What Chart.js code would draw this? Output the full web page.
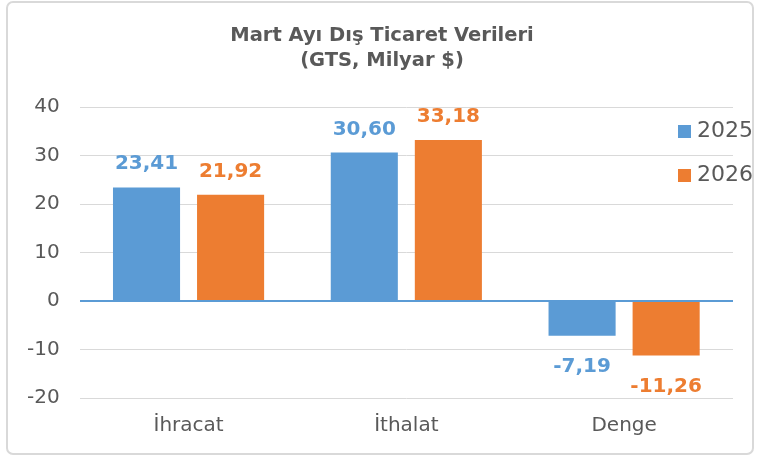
<!DOCTYPE html>
<html>
<head>
<meta charset="utf-8">
<script src="https://cdn.jsdelivr.net/npm/chart.js@4.4.1/dist/chart.umd.min.js"></script>
<style>
  html, body { margin: 0; padding: 0; background: #fff; }
  #wrap { width: 757px; height: 457px; position: relative; }
</style>
</head>
<body>
<div id="wrap"><canvas id="c" width="757" height="457"></canvas></div>
<script>
const categories = ['İhracat', 'İthalat', 'Denge'];
const seriesNames = ['2025', '2026'];
const values2025 = [23.41, 30.60, -7.19];
const values2026 = [21.92, 33.18, -11.26];
const titleLines = ['Mart Ayı Dış Ticaret Verileri', '(GTS, Milyar $)'];

const BLUE = '#5b9bd5';
const ORANGE = '#ed7d31';
const GREY_TEXT = '#595959';
const FONT = '"DejaVu Sans", sans-serif';

const fmt = v => v.toFixed(2).replace('.', ',');

// white background + rounded frame
const framePlugin = {
  id: 'framePlugin',
  beforeDraw(chart) {
    const { ctx, width, height } = chart;
    ctx.save();
    ctx.fillStyle = '#fff';
    ctx.fillRect(0, 0, width, height);
    ctx.strokeStyle = '#d9d9d9';
    ctx.lineWidth = 2;
    ctx.beginPath();
    ctx.roundRect(7, 2, width - 11, height - 5, 6);
    ctx.stroke();
    ctx.restore();
  }
};

// two-line title, centred on the frame (not the plot)
const titlePlugin = {
  id: 'titlePlugin',
  afterDraw(chart) {
    const { ctx } = chart;
    ctx.save();
    ctx.font = 'bold 19.5px ' + FONT;
    ctx.fillStyle = GREY_TEXT;
    ctx.textAlign = 'center';
    ctx.textBaseline = 'middle';
    titleLines.forEach((line, i) => ctx.fillText(line, 382, 36 + i * 25));
    ctx.restore();
  }
};

// value labels above / below bars
const valueLabels = {
  id: 'valueLabels',
  afterDatasetsDraw(chart) {
    const { ctx } = chart;
    ctx.save();
    ctx.font = 'bold 20px ' + FONT;
    ctx.textAlign = 'center';
    ctx.textBaseline = 'alphabetic';
    chart.data.datasets.forEach((ds, i) => {
      const meta = chart.getDatasetMeta(i);
      ctx.fillStyle = ds.backgroundColor;
      meta.data.forEach((bar, j) => {
        const v = ds.data[j];
        const y = v >= 0 ? bar.y - 18 : bar.y + 36;
        ctx.fillText(fmt(v), bar.x, y);
      });
    });
    ctx.restore();
  }
};

// legend drawn over the right edge of the plot
const sideLegend = {
  id: 'sideLegend',
  afterDraw(chart) {
    const { ctx } = chart;
    ctx.save();
    ctx.font = '22px ' + FONT;
    ctx.textBaseline = 'middle';
    ctx.textAlign = 'left';
    chart.data.datasets.forEach((ds, i) => {
      const y = 131 + i * 44;
      ctx.fillStyle = ds.backgroundColor;
      ctx.fillRect(678, y - 6, 13, 13);
      ctx.fillStyle = GREY_TEXT;
      ctx.fillText(ds.label, 697, y);
    });
    ctx.restore();
  }
};

const ctx = document.getElementById('c').getContext('2d');

new Chart(ctx, {
  type: 'bar',
  data: {
    labels: categories,
    datasets: [
      { label: seriesNames[0], data: values2025, backgroundColor: BLUE },
      { label: seriesNames[1], data: values2026, backgroundColor: ORANGE }
    ]
  },
  options: {
    responsive: false,
    animation: false,
    devicePixelRatio: 1,
    layout: { padding: { left: 7, right: 24, top: 107, bottom: 11 } },
    datasets: {
      bar: { categoryPercentage: 0.772, barPercentage: 0.798 }
    },
    scales: {
      x: {
        grid: { display: false },
        border: { display: false },
        ticks: { color: GREY_TEXT, font: { family: FONT, size: 20 }, padding: 8 }
      },
      y: {
        min: -20,
        max: 40,
        ticks: { stepSize: 10, color: GREY_TEXT, font: { family: FONT, size: 20 }, padding: 20 },
        border: { display: false },
        grid: {
          drawTicks: false,
          color: c => c.tick && c.tick.value === 0 ? BLUE : '#d9d9d9',
          lineWidth: c => c.tick && c.tick.value === 0 ? 2 : 1
        }
      }
    },
    plugins: {
      legend: { display: false },
      tooltip: { enabled: false },
      title: { display: false }
    }
  },
  plugins: [framePlugin, titlePlugin, valueLabels, sideLegend]
});
</script>
</body>
</html>
